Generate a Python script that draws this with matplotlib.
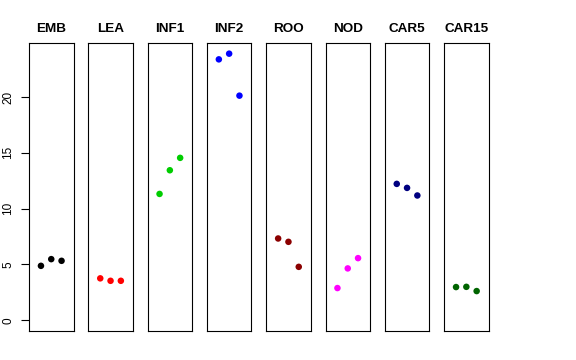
import matplotlib
matplotlib.use("Agg")
import matplotlib.pyplot as plt

plt.rcParams["font.family"] = ["Liberation Sans", "DejaVu Sans"]

# datos: tres repeticiones por tejido
tejidos = ["EMB", "LEA", "INF1", "INF2", "ROO", "NOD", "CAR5", "CAR15"]
colores = ["black", "red", "#00CD00", "blue", "#8B0000", "magenta", "#000080", "#006400"]
rep = [1, 2, 3]
valores = [
    [4.88, 5.48, 5.33],
    [3.76, 3.54, 3.54],
    [11.32, 13.44, 14.55],
    [23.37, 23.88, 20.12],
    [7.33, 7.03, 4.79],
    [2.89, 4.65, 5.57],
    [12.22, 11.86, 11.18],
    [2.98, 3.00, 2.62],
]

ymax = max(max(v) for v in valores)
pad_y = 0.04 * ymax
pad_x = 0.04 * 4

fig = plt.figure(figsize=(5.76, 3.6), dpi=100)

W, H = 576, 360
x0, paso, ancho = 29, 59.3, 44.5
arriba, abajo = 43, 331

for i, (nombre, col, vals) in enumerate(zip(tejidos, colores, valores)):
    izq = x0 + i * paso
    ax = fig.add_axes([izq / W, (H - abajo) / H, ancho / W, (abajo - arriba) / H])
    ax.scatter(rep, vals, color=col, s=22, edgecolors="none", zorder=3)
    ax.set_xlim(0 - pad_x, 4 + pad_x)
    ax.set_ylim(0 - pad_y, ymax + pad_y)
    ax.set_xticks([])
    for s in ax.spines.values():
        s.set_linewidth(0.8)
        s.set_color("black")
    ax.set_title(nombre, fontsize=9.7, fontweight="bold", pad=8)
    if i == 0:
        ax.set_yticks([0, 5, 10, 15, 20])
        ax.tick_params(axis="y", length=5.5, width=0.8, labelsize=8.5, pad=5)
        for t in ax.get_yticklabels():
            t.set_rotation(90)
            t.set_va("center")
    else:
        ax.set_yticks([])

fig.savefig("out.png", dpi=100)
